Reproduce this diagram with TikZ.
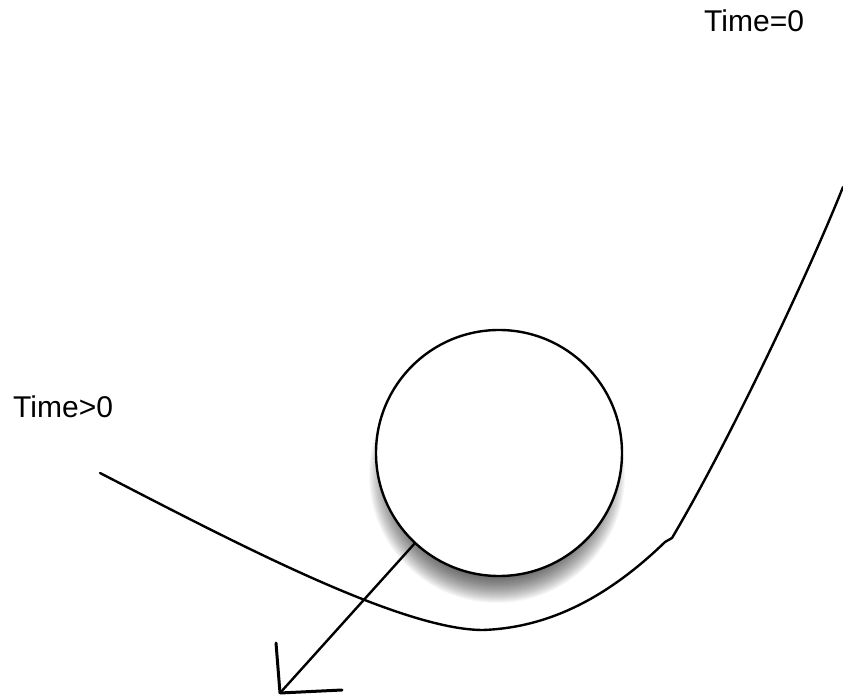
\documentclass[tikz,border=0pt]{standalone}
\usepackage{fontspec}
\setmainfont{Liberation Sans}

\begin{document}
\begin{tikzpicture}[x=1pt, y=-1pt,
    stroke/.style={line width=2.4pt, line cap=round, line join=round},
    label/.style={anchor=base west, inner sep=0pt, font=\fontsize{30}{36}\selectfont}
]
\useasboundingbox (0,0) rectangle (843,700);

\foreach \r in {102,...,128}
    \fill[black, opacity=.03] (497,475) circle [radius=\r];

\node[circle, draw, fill=white, stroke, minimum size=246pt, inner sep=0pt] (ball) at (499,453) {};

\node[label] (tzero) at (704,32) {Time=0};
\node[label] (tpos) at (13,417) {Time>0};

\draw[stroke] (100,473) .. controls (230,540) and (400,630) .. (483,630)
    .. controls (540,628) and (600,605) .. (665,542) -- (672,538)
    .. controls (730,440) and (810,270) .. (843,187);

\coordinate (tip) at (280,693);
\draw[stroke] (ball.227.6) -- (tip);
\draw[stroke, line width=3pt] (276,643) -- (tip) -- (342,690);

\end{tikzpicture}
\end{document}
